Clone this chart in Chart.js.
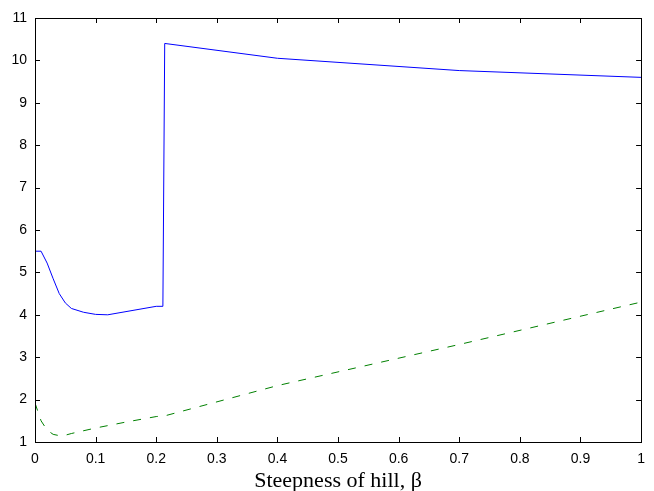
<!DOCTYPE html>
<html>
<head>
<meta charset="utf-8">
<script src="https://cdn.jsdelivr.net/npm/chart.js@4/dist/chart.umd.min.js"></script>
<style>
html,body{margin:0;padding:0;background:#fff;}
#wrap{width:654px;height:491px;}
</style>
</head>
<body>
<div id="wrap"><canvas id="c" width="654" height="491"></canvas></div>
<script>
const blueBeta  = [0, 0.01, 0.02, 0.03, 0.04, 0.05, 0.06, 0.08, 0.10, 0.12, 0.20, 0.211, 0.214, 0.40, 0.70, 1.0];
const blueVals  = [5.5, 5.5, 5.22, 4.85, 4.5, 4.28, 4.15, 4.06, 4.01, 4.0, 4.2, 4.2, 10.4, 10.05, 9.76, 9.6];
const greenBeta = [0, 0.01, 0.02, 0.03, 0.04, 0.05, 0.06, 0.10, 0.15, 0.20, 0.215, 0.40, 0.70, 1.0];
const greenVals = [1.92, 1.5, 1.28, 1.18, 1.15, 1.16, 1.2, 1.33, 1.47, 1.6, 1.62, 2.33, 3.3, 4.3];
const xTicks = [0, 0.1, 0.2, 0.3, 0.4, 0.5, 0.6, 0.7, 0.8, 0.9, 1];
const yTicks = [1, 2, 3, 4, 5, 6, 7, 8, 9, 10, 11];
const xTitle = 'Steepness of hill, β';

const toPts = (xs, ys) => xs.map((x, i) => ({x: x, y: ys[i]}));

const boxPlugin = {
  id: 'box',
  afterDraw(chart) {
    const {ctx, chartArea: a, scales} = chart;
    ctx.save();
    ctx.strokeStyle = '#000';
    ctx.lineWidth = 1;
    ctx.strokeRect(Math.round(a.left) + 0.5, Math.round(a.top) + 0.5,
                   Math.round(a.right - a.left), Math.round(a.bottom - a.top));
    const L = 5;
    ctx.beginPath();
    xTicks.forEach(v => {
      const px = Math.round(scales.x.getPixelForValue(v)) + 0.5;
      ctx.moveTo(px, a.bottom); ctx.lineTo(px, a.bottom - L);
      ctx.moveTo(px, a.top); ctx.lineTo(px, a.top + L);
    });
    yTicks.forEach(v => {
      const py = Math.round(scales.y.getPixelForValue(v)) + 0.5;
      ctx.moveTo(a.left, py); ctx.lineTo(a.left + L, py);
      ctx.moveTo(a.right, py); ctx.lineTo(a.right - L, py);
    });
    ctx.stroke();
    ctx.restore();
  }
};

new Chart(document.getElementById('c'), {
  type: 'line',
  data: {
    datasets: [
      { data: toPts(blueBeta, blueVals), borderColor: '#0000ff', borderWidth: 1, pointRadius: 0, tension: 0, fill: false },
      { data: toPts(greenBeta, greenVals), borderColor: '#008000', borderWidth: 1, borderDash: [8, 9], pointRadius: 0, tension: 0, fill: false }
    ]
  },
  plugins: [boxPlugin],
  options: {
    responsive: false,
    animation: false,
    devicePixelRatio: 1,
    layout: { padding: { left: 0, right: 12, top: 18, bottom: 0 } },
    plugins: { legend: { display: false }, tooltip: { enabled: false } },
    scales: {
      x: {
        type: 'linear', min: 0, max: 1,
        afterBuildTicks: s => { s.ticks = xTicks.map(v => ({value: v})); },
        afterFit: s => { s.height = 49; },
        grid: { display: false, drawTicks: false },
        border: { display: false },
        ticks: { color: '#000', padding: 9, font: { family: 'Liberation Sans', size: 14 }, callback: v => String(v), maxRotation: 0 },
        title: { display: true, text: xTitle, color: '#000', font: { family: 'Liberation Serif', size: 22 }, padding: { top: 0, bottom: -3 } }
      },
      y: {
        type: 'linear', min: 1, max: 11,
        afterBuildTicks: s => { s.ticks = yTicks.map(v => ({value: v})); },
        afterFit: s => { s.width = 35; },
        grid: { display: false, drawTicks: false },
        border: { display: false },
        ticks: { color: '#000', padding: 8, font: { family: 'Liberation Sans', size: 14 }, callback: v => String(v) }
      }
    }
  }
});
</script>
</body>
</html>
